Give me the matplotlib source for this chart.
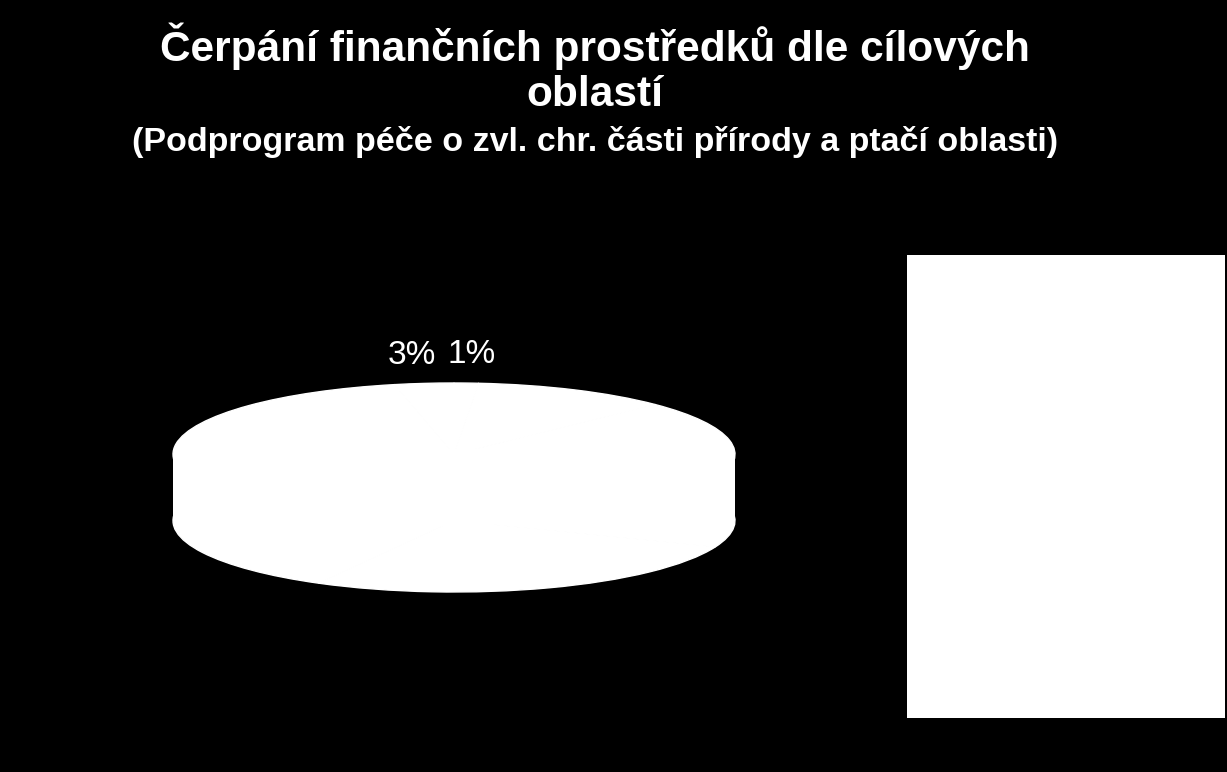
import matplotlib.pyplot as plt

plt.rcParams['font.family'] = ['Liberation Sans', 'DejaVu Sans']

# podíly čerpání podle cílových oblastí (%)
oblasti = ['Péče o nelesní ekosystémy', 'Péče o lesní ekosystémy',
           'Péče o vodní ekosystémy', 'Druhová ochrana',
           'Výzkum a monitoring', 'Ostatní']
podily = [3.4, 38.6, 27.0, 18.3, 11.3, 1.4]

W, H = 1227, 772
fig = plt.figure(figsize=(W / 100, H / 100), dpi=100, facecolor='black')

def fx(px):
    return px / W

def fy(py):
    return 1 - py / H

# titulek
fig.text(fx(595), fy(61), 'Čerpání finančních prostředků dle cílových',
         color='white', fontsize=30.5, fontweight='bold', ha='center', va='baseline')
fig.text(fx(595), fy(106), 'oblastí',
         color='white', fontsize=30.5, fontweight='bold', ha='center', va='baseline')
fig.text(fx(595), fy(151), '(Podprogram péče o zvl. chr. části přírody a ptačí oblasti)',
         color='white', fontsize=24.5, fontweight='bold', ha='center', va='baseline')

# koláč (3D vzhled: horní plocha + boční stěna)
hloubka = 0.93
ax = fig.add_axes([fx(173), fy(592), fx(735) - fx(173), fy(383) - fy(592)])
ax.set_facecolor('black')
ax.axis('off')

bile = ['white'] * len(podily)
okraj = dict(linewidth=1, edgecolor='white')
ax.pie(podily, colors=bile, startangle=90, center=(0, -hloubka),
       wedgeprops=okraj)
ax.bar(0, hloubka, width=2, bottom=-hloubka, color='white', linewidth=0)

popisky = [f'{v:.0f}%' if v < 5 else '' for v in podily]
wedges, texts, autotexts = ax.pie(
    podily, colors=bile, startangle=90, center=(0, 0),
    labels=popisky, labeldistance=1.4,
    autopct=lambda p: f'{p:.0f}%' if p >= 5 else '', pctdistance=0.6,
    wedgeprops=okraj,
    textprops=dict(color='white', fontsize=24))
for t in texts:
    t.set_ha('center')
ax.set_aspect('auto')
ax.set_xlim(-1, 1)
ax.set_ylim(-1 - hloubka, 1)

# legenda (bílý rámeček)
lax = fig.add_axes([fx(907), fy(718), fx(1225) - fx(907), fy(255) - fy(718)])
lax.set_facecolor('white')
lax.set_xticks([])
lax.set_yticks([])
for s in lax.spines.values():
    s.set_visible(False)
leg = lax.legend(wedges, oblasti, loc='center', frameon=False,
                 labelcolor='white', fontsize=14)

fig.savefig('out.png', dpi=100, facecolor='black')
